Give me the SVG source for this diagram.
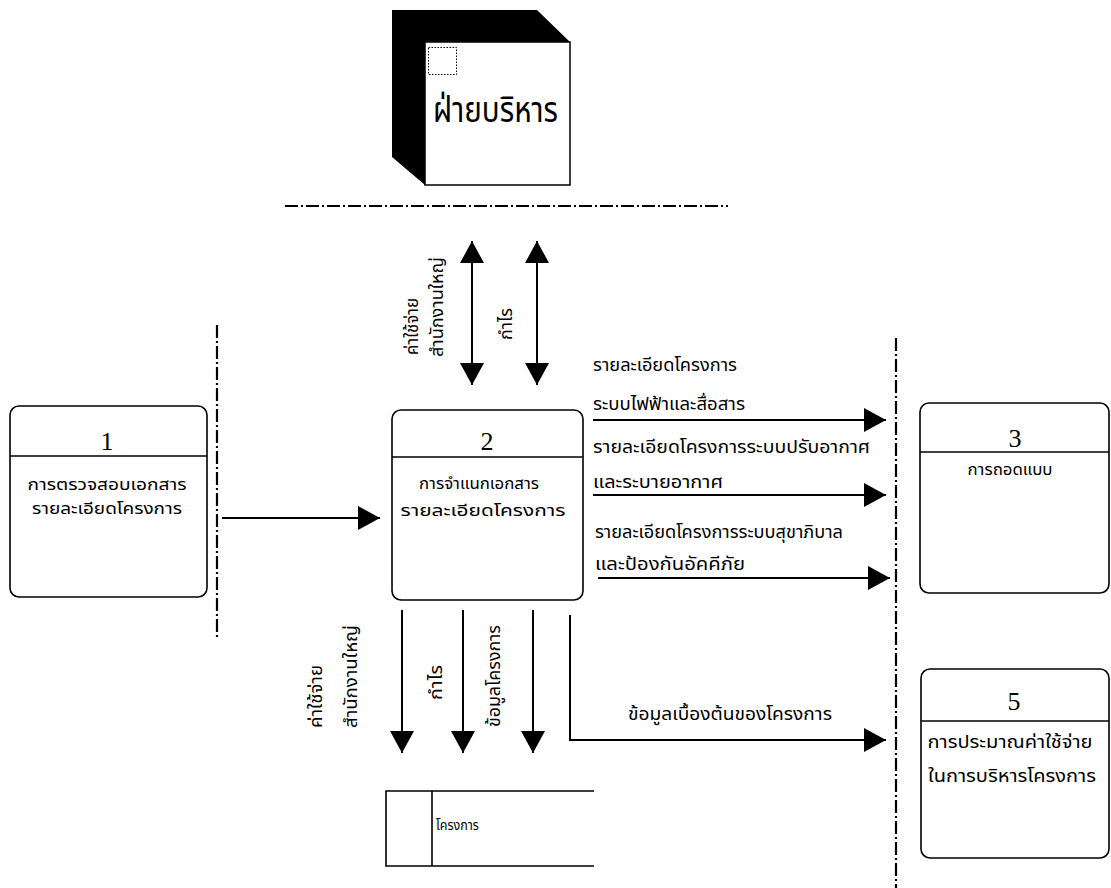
<svg xmlns="http://www.w3.org/2000/svg" width="1111" height="888" viewBox="0 0 1111 888">
  <style>
    .bg { fill: #ffffff; }
    .proc { fill: #ffffff; stroke: #000; stroke-width: 1.6; }
    .div { stroke: #000; stroke-width: 1.6; }
    .bound { stroke: #000; stroke-width: 2.2; fill: none; stroke-dasharray: 13 3 2 3; }
    .flow { stroke: #000; stroke-width: 2; fill: none; }
    .num { font-family: "Liberation Serif", "Times New Roman", serif; font-size: 26px; fill: #000; text-anchor: middle; }
    .th { font-family: "Noto Sans Thai", "Noto Sans", "DejaVu Sans", sans-serif; font-size: 17px; fill: #000; }
    .bx { font-size: 15.5px; }
    .sm { font-size: 14px; }
    .thc { text-anchor: middle; }
    .ext { font-family: "Noto Sans Thai", "Noto Sans", "DejaVu Sans", sans-serif; font-size: 36px; fill: #000; }
  </style>
  <defs>
    <marker id="ah" viewBox="0 0 22 24" refX="22" refY="12" markerWidth="22" markerHeight="24" markerUnits="userSpaceOnUse" orient="auto-start-reverse">
      <path d="M0,0 L22,12 L0,24 Z" fill="#000"/>
    </marker>
  </defs>

  <rect class="bg" x="0" y="0" width="1111" height="888"/>

  <!-- external entity: management (cube) -->
  <g id="entity-management">
    <polygon points="392,10 537,10 570,42 425,42 425,185 392,157" fill="#000"/>
    <rect x="425" y="42" width="145" height="143" fill="#fff" stroke="#000" stroke-width="1.5"/>
    <rect x="428.5" y="47.5" width="28" height="27" fill="none" stroke="#000" stroke-width="1" stroke-dasharray="1.5 1.5"/>
    <text class="ext" x="433" y="122" textLength="125" lengthAdjust="spacingAndGlyphs">ฝ่ายบริหาร</text>
  </g>

  <!-- boundary lines -->
  <g id="boundaries">
    <line class="bound" x1="285" y1="206" x2="728" y2="206"/>
    <line class="bound" x1="217" y1="325" x2="217" y2="638"/>
    <line class="bound" x1="896" y1="338" x2="896" y2="888"/>
  </g>

  <!-- process 1 -->
  <g id="process-1">
    <rect class="proc" x="10" y="406" width="197" height="191" rx="9"/>
    <line class="div" x1="10" y1="456" x2="207" y2="456"/>
    <text class="num" x="107" y="450">1</text>
    <text class="th bx thc" x="107" y="490" textLength="159" lengthAdjust="spacingAndGlyphs">การตรวจสอบเอกสาร</text>
    <text class="th bx thc" x="107" y="514" textLength="150" lengthAdjust="spacingAndGlyphs">รายละเอียดโครงการ</text>
  </g>

  <!-- process 2 -->
  <g id="process-2">
    <rect class="proc" x="392" y="410" width="191" height="190" rx="9"/>
    <line class="div" x1="392" y1="457" x2="583" y2="457"/>
    <text class="num" x="487" y="450">2</text>
    <text class="th bx thc" x="479" y="489" textLength="120" lengthAdjust="spacingAndGlyphs">การจำแนกเอกสาร</text>
    <text class="th bx thc" x="483" y="516" textLength="165" lengthAdjust="spacingAndGlyphs">รายละเอียดโครงการ</text>
  </g>

  <!-- process 3 -->
  <g id="process-3">
    <rect class="proc" x="920" y="403" width="189" height="190" rx="9"/>
    <line class="div" x1="920" y1="452" x2="1109" y2="452"/>
    <text class="num" x="1015" y="447">3</text>
    <text class="th bx thc" x="1010" y="475" textLength="85" lengthAdjust="spacingAndGlyphs">การถอดแบบ</text>
  </g>

  <!-- process 5 -->
  <g id="process-5">
    <rect class="proc" x="921" y="669" width="188" height="189" rx="9"/>
    <line class="div" x1="921" y1="721" x2="1109" y2="721"/>
    <text class="num" x="1014" y="710">5</text>
    <text class="th thc" x="1010" y="748" textLength="165" lengthAdjust="spacingAndGlyphs">การประมาณค่าใช้จ่าย</text>
    <text class="th thc" x="1012" y="782" textLength="168" lengthAdjust="spacingAndGlyphs">ในการบริหารโครงการ</text>
  </g>

  <!-- data store: projects -->
  <g id="store-projects">
    <path d="M594,791 L386,791 L386,866 L594,866" fill="none" stroke="#000" stroke-width="1.6"/>
    <line x1="432" y1="791" x2="432" y2="866" stroke="#000" stroke-width="1.6"/>
    <text class="th sm" x="436" y="830" textLength="43" lengthAdjust="spacingAndGlyphs">โครงการ</text>
  </g>

  <!-- data flows -->
  <g id="connectors">
    <!-- management <-> process 2 -->
    <line class="flow" x1="472" y1="241" x2="472" y2="385" marker-start="url(#ah)" marker-end="url(#ah)"/>
    <line class="flow" x1="537" y1="241" x2="537" y2="385" marker-start="url(#ah)" marker-end="url(#ah)"/>
    <!-- process 1 -> process 2 -->
    <line class="flow" x1="222" y1="518" x2="380" y2="518" marker-end="url(#ah)"/>
    <!-- process 2 -> process 3 -->
    <line class="flow" x1="593" y1="420" x2="886" y2="420" marker-end="url(#ah)"/>
    <line class="flow" x1="593" y1="495" x2="886" y2="495" marker-end="url(#ah)"/>
    <line class="flow" x1="598" y1="578" x2="890" y2="578" marker-end="url(#ah)"/>
    <!-- process 2 -> data store -->
    <line class="flow" x1="402" y1="610" x2="402" y2="753" marker-end="url(#ah)"/>
    <line class="flow" x1="463" y1="610" x2="463" y2="753" marker-end="url(#ah)"/>
    <line class="flow" x1="533" y1="610" x2="533" y2="753" marker-end="url(#ah)"/>
    <!-- process 2 -> process 5 -->
    <polyline class="flow" points="570,615 570,740 886,740" marker-end="url(#ah)"/>
  </g>

  <!-- flow labels -->
  <g id="flow-labels">
    <text class="th" transform="translate(418,355) rotate(-90)" textLength="57" lengthAdjust="spacingAndGlyphs">ค่าใช้จ่าย</text>
    <text class="th" transform="translate(443,357) rotate(-90)" textLength="100" lengthAdjust="spacingAndGlyphs">สำนักงานใหญ่</text>
    <text class="th" transform="translate(512,340) rotate(-90)" textLength="32" lengthAdjust="spacingAndGlyphs">กำไร</text>

    <text class="th" x="593" y="371" textLength="144" lengthAdjust="spacingAndGlyphs">รายละเอียดโครงการ</text>
    <text class="th" x="593" y="410" textLength="152" lengthAdjust="spacingAndGlyphs">ระบบไฟฟ้าและสื่อสาร</text>
    <text class="th" x="593" y="453" textLength="277" lengthAdjust="spacingAndGlyphs">รายละเอียดโครงการระบบปรับอากาศ</text>
    <text class="th" x="593" y="488" textLength="130" lengthAdjust="spacingAndGlyphs">และระบายอากาศ</text>
    <text class="th" x="595" y="538" textLength="248" lengthAdjust="spacingAndGlyphs">รายละเอียดโครงการระบบสุขาภิบาล</text>
    <text class="th" x="595" y="570" textLength="150" lengthAdjust="spacingAndGlyphs">และป้องกันอัคคีภัย</text>

    <text class="th" transform="translate(322,728) rotate(-90)" textLength="63" lengthAdjust="spacingAndGlyphs">ค่าใช้จ่าย</text>
    <text class="th" transform="translate(357,728) rotate(-90)" textLength="103" lengthAdjust="spacingAndGlyphs">สำนักงานใหญ่</text>
    <text class="th" transform="translate(442,700) rotate(-90)" textLength="35" lengthAdjust="spacingAndGlyphs">กำไร</text>
    <text class="th" transform="translate(500,727) rotate(-90)" textLength="102" lengthAdjust="spacingAndGlyphs">ข้อมูลโครงการ</text>

    <text class="th" x="628" y="720" textLength="204" lengthAdjust="spacingAndGlyphs">ข้อมูลเบื้องต้นของโครงการ</text>
  </g>
</svg>
